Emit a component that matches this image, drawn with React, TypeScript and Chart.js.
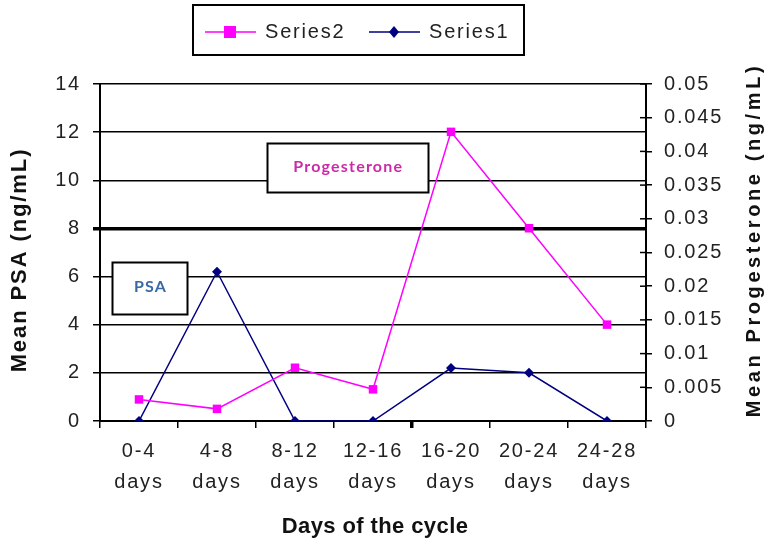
import React, { useEffect, useRef } from "react";
import { Chart, registerables } from "chart.js";

Chart.register(...registerables);

const categories: string[][] = [
  ["0-4", "days"],
  ["4-8", "days"],
  ["8-12", "days"],
  ["12-16", "days"],
  ["16-20", "days"],
  ["20-24", "days"],
  ["24-28", "days"],
];
// Series1: Mean PSA (ng/mL), left axis
const series1PSA: number[] = [0, 6.2, 0, 0, 2.2, 2.0, 0];
// Series2: Mean Progesterone (ng/mL), right axis
const series2Progesterone: number[] = [0.0032, 0.0018, 0.0079, 0.0047, 0.0429, 0.0286, 0.0143];

const leftTicks = { min: 0, max: 14, step: 2 };
const rightTicks = { min: 0, max: 0.05, step: 0.005 };

const legendItems = [
  { label: "Series2", color: "#ff00ff", marker: "square" },
  { label: "Series1", color: "#000080", marker: "diamond" },
];

const annotations = [
  { text: "Progesterone", color: "#cc2aa6", xVal: 2.67, yVal: 10.52, w: 161, h: 49 },
  { text: "PSA", color: "#3a6aa6", xVal: 0.135, yVal: 5.52, w: 75, h: 52 },
];

const FONT = "'Liberation Sans', Arial, sans-serif";
const TICK_SPACING = "1.8px";

const customPlugin = {
  id: "customDecor",
  beforeDraw(chart: any) {
    (chart.ctx as any).letterSpacing = TICK_SPACING;
  },
  afterDraw(chart: any) {
    const ctx = chart.ctx as CanvasRenderingContext2D;
    const area = chart.chartArea;
    const x = chart.scales.x;
    const yL = chart.scales.y;
    const yR = chart.scales.y1;
    ctx.save();

    // inner ticks on right axis
    ctx.strokeStyle = "#000";
    ctx.lineWidth = 1.5;
    yR.ticks.forEach((t: any) => {
      const py = yR.getPixelForValue(t.value);
      ctx.beginPath();
      ctx.moveTo(area.right - 6, py);
      ctx.lineTo(area.right, py);
      ctx.stroke();
    });

    // annotations
    annotations.forEach((a) => {
      const cx = x.getPixelForValue(a.xVal);
      const cy = yL.getPixelForValue(a.yVal);
      const bx = Math.round(cx - a.w / 2) + 0.5;
      const by = Math.round(cy - a.h / 2) + 0.5;
      ctx.fillStyle = "#fff";
      ctx.fillRect(bx, by, a.w, a.h);
      ctx.strokeStyle = "#000";
      ctx.lineWidth = 2;
      ctx.strokeRect(bx, by, a.w, a.h);
      ctx.fillStyle = a.color;
      ctx.font = "bold 16px Lato, 'Open Sans', sans-serif";
      (ctx as any).letterSpacing = "1.2px";
      ctx.textAlign = "center";
      ctx.textBaseline = "middle";
      ctx.fillText(a.text, cx + 1, cy - 1);
    });

    // legend
    const lx = 193, ly = 5, lw = 331, lh = 50;
    ctx.fillStyle = "#fff";
    ctx.fillRect(lx, ly, lw, lh);
    ctx.strokeStyle = "#000";
    ctx.lineWidth = 2;
    ctx.strokeRect(lx, ly, lw, lh);
    const itemStarts = [205, 369];
    const midY = ly + lh / 2 + 2;
    legendItems.forEach((it, i) => {
      const sx = itemStarts[i];
      ctx.strokeStyle = it.color;
      ctx.lineWidth = 1.5;
      ctx.beginPath();
      ctx.moveTo(sx, midY);
      ctx.lineTo(sx + 51, midY);
      ctx.stroke();
      ctx.fillStyle = it.color;
      const mx = sx + 25;
      if (it.marker === "square") {
        ctx.fillRect(mx - 6, midY - 6, 12, 12);
      } else {
        ctx.beginPath();
        ctx.moveTo(mx, midY - 6);
        ctx.lineTo(mx + 5, midY);
        ctx.lineTo(mx, midY + 6);
        ctx.lineTo(mx - 5, midY);
        ctx.closePath();
        ctx.fill();
      }
      ctx.fillStyle = "#222";
      ctx.font = `20px ${FONT}`;
      (ctx as any).letterSpacing = "1.8px";
      ctx.textAlign = "left";
      ctx.textBaseline = "middle";
      ctx.fillText(it.label, sx + 60, midY);
    });

    // axis titles
    ctx.fillStyle = "#111";
    ctx.textAlign = "center";
    ctx.textBaseline = "middle";
    ctx.save();
    ctx.translate(20, 260);
    ctx.rotate(-Math.PI / 2);
    ctx.font = `bold 22px ${FONT}`;
    (ctx as any).letterSpacing = "1.9px";
    ctx.fillText("Mean PSA (ng/mL)", 0, 0);
    ctx.restore();

    ctx.save();
    ctx.translate(754, 240);
    ctx.rotate(-Math.PI / 2);
    ctx.font = `bold 20px ${FONT}`;
    (ctx as any).letterSpacing = "3.6px";
    ctx.fillText("Mean Progesterone (ng/mL)", 0, 0);
    ctx.restore();

    ctx.save();
    ctx.font = `bold 22px ${FONT}`;
    (ctx as any).letterSpacing = "0.4px";
    ctx.fillText("Days of the cycle", 375, 527);
    ctx.restore();

    ctx.restore();
  },
};

export default function App() {
  const ref = useRef<HTMLCanvasElement | null>(null);
  useEffect(() => {
    if (!ref.current) return;
    const chart = new Chart(ref.current, {
      type: "line",
      data: {
        labels: categories as any,
        datasets: [
          {
            label: "Series2",
            data: series2Progesterone,
            yAxisID: "y1",
            borderColor: "#ff00ff",
            backgroundColor: "#ff00ff",
            borderWidth: 1.5,
            pointStyle: "rect",
            pointRadius: 6,
            pointBorderWidth: 0,
            tension: 0,
          },
          {
            label: "Series1",
            data: series1PSA,
            yAxisID: "y",
            borderColor: "#000080",
            backgroundColor: "#000080",
            borderWidth: 1.5,
            pointStyle: "rectRot",
            pointRadius: 5,
            pointBorderWidth: 0,
            tension: 0,
          },
        ],
      },
      options: {
        responsive: false,
        animation: false,
        layout: { padding: { top: 84, left: 0, right: 0, bottom: 0 } },
        plugins: { legend: { display: false }, tooltip: { enabled: false } },
        scales: {
          x: {
            type: "category",
            offset: true,
            grid: {
              offset: true,
              drawOnChartArea: false,
              tickLength: 7,
              color: "#000",
              lineWidth: (c: any) => (c.index === 4 ? 3.5 : 1.5),
            },
            border: { display: true, color: "#000", width: 2 },
            ticks: {
              maxRotation: 0,
              autoSkip: false,
              color: "#222",
              padding: 8,
              font: { family: FONT, size: 20, lineHeight: 1.55 },
            },
            afterFit: (s: any) => {
              s.height = 132;
            },
          },
          y: {
            position: "left",
            min: leftTicks.min,
            max: leftTicks.max,
            ticks: {
              stepSize: leftTicks.step,
              color: "#222",
              padding: 12,
              font: { family: FONT, size: 20 },
            },
            grid: {
              color: "#000",
              lineWidth: (c: any) => (c.tick && c.tick.value === 8 ? 3.5 : 1.5),
              tickLength: 7,
            },
            border: { display: true, color: "#000", width: 2 },
            afterFit: (s: any) => {
              s.width = 100;
            },
          },
          y1: {
            position: "right",
            min: rightTicks.min,
            max: rightTicks.max,
            ticks: {
              stepSize: rightTicks.step,
              color: "#222",
              padding: 12,
              font: { family: FONT, size: 20 },
              callback: (v: any) => String(Number(Number(v).toFixed(3))),
            },
            grid: {
              drawOnChartArea: false,
              color: "#000",
              lineWidth: 1.5,
              tickLength: 6,
            },
            border: { display: true, color: "#000", width: 2 },
            afterFit: (s: any) => {
              s.width = 128;
            },
          },
        },
      } as any,
      plugins: [customPlugin],
    });
    return () => chart.destroy();
  }, []);
  return (
    <div style={{ position: "fixed", left: 0, top: 0, width: 774, height: 553, background: "#fff" }}>
      <canvas ref={ref} width={774} height={553} />
    </div>
  );
}
